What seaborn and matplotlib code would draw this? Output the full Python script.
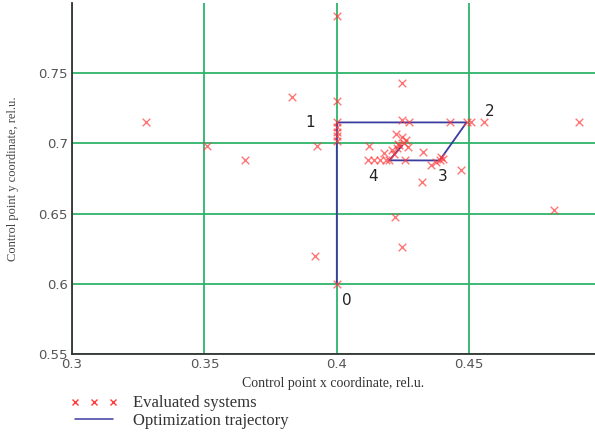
import pandas as pd
import seaborn as sns
import matplotlib.pyplot as plt
from matplotlib.lines import Line2D

# Evaluated systems
eval_x = [0.400, 0.4247, 0.3829, 0.3281, 0.400, 0.351, 0.3654, 0.3924, 0.3916,
          0.400, 0.400, 0.400, 0.400, 0.400, 0.4247, 0.4274, 0.4426, 0.4555,
          0.4913, 0.4821, 0.4118, 0.414, 0.4163, 0.4186, 0.4122, 0.4327, 0.4259,
          0.432, 0.4468, 0.4375, 0.4355, 0.4395, 0.422, 0.4247, 0.449, 0.4505,
          0.4236, 0.4252, 0.4228, 0.4262, 0.421, 0.4245, 0.4198, 0.4215, 0.4388,
          0.4402, 0.4232, 0.418, 0.4268, 0.4225, 0.400]
eval_y = [0.791, 0.7429, 0.7329, 0.715, 0.730, 0.6979, 0.6879, 0.6979, 0.620,
          0.715, 0.712, 0.708, 0.705, 0.702, 0.7164, 0.715, 0.715, 0.715,
          0.715, 0.6529, 0.688, 0.688, 0.688, 0.688, 0.698, 0.6936, 0.688,
          0.6729, 0.6814, 0.6865, 0.6845, 0.6905, 0.6479, 0.6264, 0.715, 0.7155,
          0.6986, 0.7005, 0.6965, 0.7025, 0.6955, 0.7045, 0.688, 0.6925, 0.6879,
          0.6892, 0.6995, 0.6935, 0.6975, 0.7065, 0.600]

# Optimization trajectory steps
traj_x = [0.400, 0.400, 0.449, 0.4388, 0.4198, 0.4247]
traj_y = [0.600, 0.715, 0.715, 0.6879, 0.688, 0.6986]
step_labels = ['0', '1', '2', '3', '4']
label_pos_x = [0.402, 0.388, 0.456, 0.438, 0.412]
label_pos_y = [0.588, 0.715, 0.7225, 0.6765, 0.6765]

x_ticks = [0.3, 0.35, 0.4, 0.45]
y_ticks = [0.55, 0.6, 0.65, 0.7, 0.75]

sns.set_style('white')

fig = plt.figure(figsize=(5.95, 4.34), dpi=100)
ax = fig.add_axes([0.121, 0.184, 0.879, 0.809])

df_eval = pd.DataFrame({'x': eval_x, 'y': eval_y})
df_traj = pd.DataFrame({'x': traj_x, 'y': traj_y, 'step': range(len(traj_x))})

sns.lineplot(data=df_traj, x='x', y='y', sort=False, estimator=None,
             color='#3c3ca0', linewidth=1.3, ax=ax, zorder=3)
sns.scatterplot(data=df_eval, x='x', y='y', marker='x', color='#ff3b3b',
                s=30, linewidth=1.0, alpha=0.7, ax=ax, zorder=4)

for lab, lx, ly in zip(step_labels, label_pos_x, label_pos_y):
    ax.text(lx, ly, lab, fontsize=11, color='#222222', va='center', ha='left')

ax.set_xlim(0.3, 0.4975)
ax.set_ylim(0.55, 0.8)
ax.set_xticks(x_ticks)
ax.set_xticklabels(['0.3', '0.35', '0.4', '0.45'])
ax.set_yticks(y_ticks)
ax.set_yticklabels(['0.55', '0.6', '0.65', '0.7', '0.75'])
ax.tick_params(length=0, labelsize=9.5, labelcolor='#555555', pad=3)

ax.grid(True, color='#2fb36a', linewidth=1.3, zorder=0)
ax.set_axisbelow(True)
for side in ['top', 'right']:
    ax.spines[side].set_visible(False)
for side in ['left', 'bottom']:
    ax.spines[side].set_color('#333333')
    ax.spines[side].set_linewidth(1.3)

ax.set_xlabel('Control point x coordinate, rel.u.', family='Liberation Serif',
              fontsize=10, color='#333333', labelpad=4)
ax.set_ylabel('Control point y coordinate, rel.u.', family='Liberation Serif',
              fontsize=9, color='#444444', labelpad=14)

handles = [Line2D([], [], marker='x', linestyle='none', color='#ff3b3b', markersize=5),
           Line2D([], [], color='#3c3ca0', linewidth=1.1)]
fig.legend(handles, ['Evaluated systems', 'Optimization trajectory'],
           loc='upper left', bbox_to_anchor=(0.103, 0.108), frameon=False,
           prop={'family': 'Liberation Serif', 'size': 12}, numpoints=3,
           handlelength=2.9, labelspacing=0.1, borderpad=0, handletextpad=0.9,
           labelcolor='#333333')

fig.savefig('out.png', dpi=100)
